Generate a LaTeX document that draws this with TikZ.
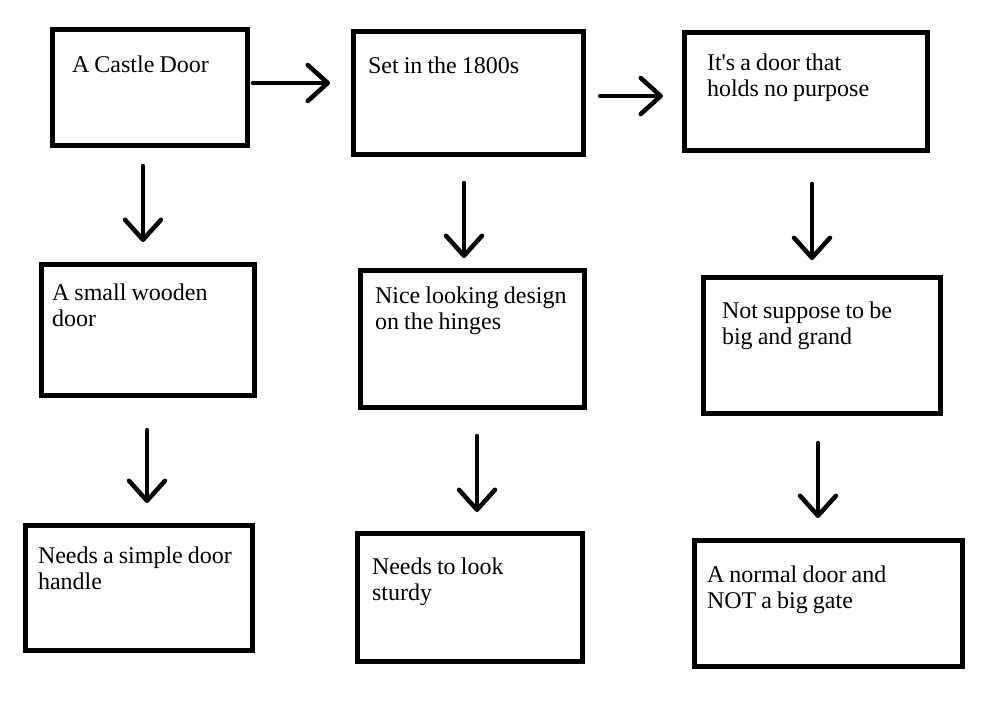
\documentclass[tikz,border=0pt]{standalone}
\usepackage{fontspec}
\setmainfont{Liberation Serif}[WordSpace=0.85]
\usepackage{tikz}
\usetikzlibrary{arrows.meta}
\newcommand{\doorfont}{\fontsize{24}{26}\selectfont}
\tikzstyle{doorbox} = [draw=black, line width=4.5pt, rectangle, anchor=north west, outer sep=0pt, inner ysep=0pt, align=flush left, font=\doorfont]
\tikzstyle{flow} = [draw=black, line width=4.5pt, line cap=round, -{Straight Barb[length=20pt, width=36pt, round]}]

\begin{document}
\begin{tikzpicture}[x=1pt, y=-1pt]
\useasboundingbox (0,0) rectangle (996,718);

\node [doorbox, inner xsep=19.5pt, text width=156pt, text height=42.5pt, text depth=73.5pt] (castle) at (52.5,29.5) {A Castle Door};
\node [doorbox, inner xsep=14.5pt, text width=201pt, text height=41.5pt, text depth=81.5pt] (setting) at (353.5,31.5) {Set in the 1800s};
\node [doorbox, inner xsep=22.5pt, text width=198pt, text height=37.5pt, text depth=80.5pt] (purpose) at (684.5,32.5) {It\textquotesingle s a door that\\ holds no purpose};

\node [doorbox, inner xsep=10.5pt, text width=192pt, text height=35.5pt, text depth=95.5pt] (wooden) at (41.5,264.5) {A small wooden\\ door};
\node [doorbox, inner xsep=14.5pt, text width=195pt, text height=32.5pt, text depth=104.5pt] (hinges) at (360.5,270.5) {Nice looking design\\ on the hinges};
\node [doorbox, inner xsep=18.5pt, text width=200pt, text height=40.5pt, text depth=95.5pt] (grand) at (703.5,277.5) {Not suppose to be\\ big and grand};

\node [doorbox, inner xsep=12.5pt, text width=202pt, text height=37.5pt, text depth=87.5pt] (handle) at (25.5,525.5) {Needs a simple door\\ handle};
\node [doorbox, inner xsep=14.5pt, text width=196pt, text height=40.5pt, text depth=87.5pt] (sturdy) at (357.5,533.5) {Needs to look\\ sturdy};
\node [doorbox, inner xsep=12.5pt, text width=243pt, text height=41.5pt, text depth=84.5pt] (gate) at (694.5,540.5) {A normal door and\\ NOT a big gate};

% arrows along the top
\draw [flow, shorten <=5.5pt, shorten >=23.5pt] ([yshift=4.5pt]castle.east) -- ([yshift=4.5pt]castle.east -| setting.west);
\draw [flow, shorten <=16.5pt, shorten >=21.5pt] ([yshift=-3pt]setting.east) -- ([yshift=-3pt]setting.east -| purpose.west);

% arrows down each column
\draw [flow, shorten <=20.5pt, shorten >=22.5pt] ([xshift=-7pt]castle.south) -- ([xshift=-7pt]castle.south |- wooden.north);
\draw [flow, shorten <=34.5pt, shorten >=22.5pt] ([xshift=-1pt]wooden.south) -- ([xshift=-1pt]wooden.south |- handle.north);
\draw [flow, shorten <=28.5pt, shorten >=12.5pt] ([xshift=-4.5pt]setting.south) -- ([xshift=-4.5pt]setting.south |- hinges.north);
\draw [flow, shorten <=28.5pt, shorten >=21.5pt] ([xshift=4.5pt]hinges.south) -- ([xshift=4.5pt]hinges.south |- sturdy.north);
\draw [flow, shorten <=33.5pt, shorten >=17.5pt] ([xshift=6pt]purpose.south) -- ([xshift=6pt]purpose.south |- grand.north);
\draw [flow, shorten <=29.5pt, shorten >=22.5pt] ([xshift=-4pt]grand.south) -- ([xshift=-4pt]grand.south |- gate.north);
\end{tikzpicture}
\end{document}
